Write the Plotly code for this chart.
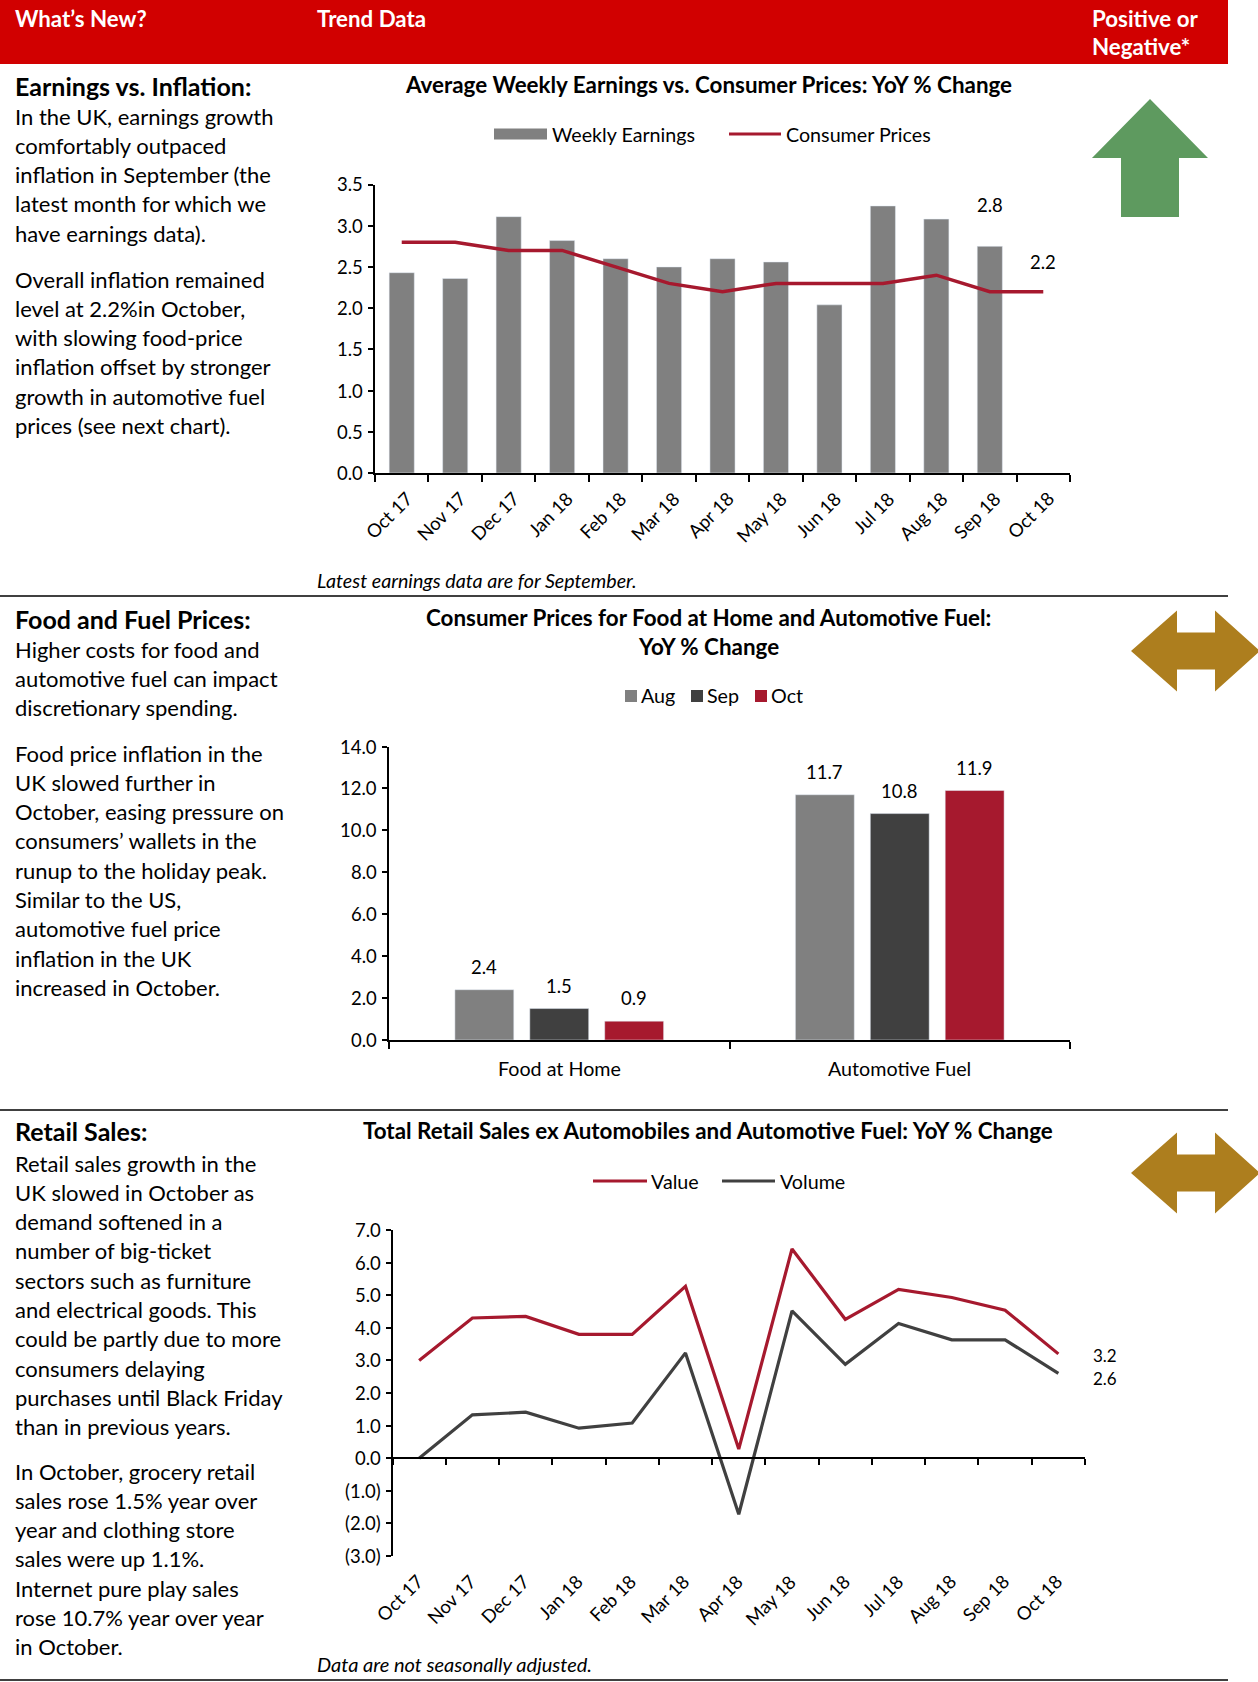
import plotly.graph_objects as go

W, H = 1258, 1682
FONT = "Lato"

# ---------------- data ----------------
months = ["Oct 17", "Nov 17", "Dec 17", "Jan 18", "Feb 18", "Mar 18", "Apr 18",
          "May 18", "Jun 18", "Jul 18", "Aug 18", "Sep 18", "Oct 18"]
weekly_earnings = [2.43, 2.36, 3.11, 2.82, 2.60, 2.50, 2.60, 2.56, 2.04, 3.24, 3.08, 2.75]
consumer_prices = [2.8, 2.8, 2.7, 2.7, 2.5, 2.3, 2.2, 2.3, 2.3, 2.3, 2.4, 2.2, 2.2]

price_categories = ["Food at Home", "Automotive Fuel"]
price_aug = [2.4, 11.7]
price_sep = [1.5, 10.8]
price_oct = [0.9, 11.9]

retail_value = [3.0, 4.3, 4.35, 3.8, 3.8, 5.27, 0.28, 6.42, 4.26, 5.18, 4.93, 4.54, 3.2]
retail_volume = [0.0, 1.33, 1.41, 0.92, 1.08, 3.23, -1.72, 4.52, 2.88, 4.13, 3.63, 3.63, 2.6]

y1_tickvals = [0.0, 0.5, 1.0, 1.5, 2.0, 2.5, 3.0, 3.5]
y1_ticktext = ["0.0", "0.5", "1.0", "1.5", "2.0", "2.5", "3.0", "3.5"]
y2_tickvals = [0, 2, 4, 6, 8, 10, 12, 14]
y2_ticktext = ["0.0", "2.0", "4.0", "6.0", "8.0", "10.0", "12.0", "14.0"]
y3_tickvals = [-3, -2, -1, 0, 1, 2, 3, 4, 5, 6, 7]
y3_ticktext = ["(3.0)", "(2.0)", "(1.0)", "0.0", "1.0", "2.0", "3.0", "4.0", "5.0", "6.0", "7.0"]

# ---------------- styles ----------------
RED = "#A6192E"
GRAY = "#808080"
DARK = "#404040"
HEADER_RED = "#D10000"
GREEN = "#5E9A5F"
GOLD = "#AD7E1E"
TICK = 18.5


def PX(x):
    return x / W


def PY(y):
    return 1 - y / H


def dom_x(x0, x1):
    return [PX(x0), PX(x1)]


def dom_y(ytop, ybot):
    return [PY(ybot), PY(ytop)]


def pth(points):
    return "M " + " L ".join(f"{PX(x):.5f},{PY(y):.5f}" for x, y in points) + " Z"


annotations = []
shapes = []


def txt(x, y, text, size, bold=False, italic=False, color="#000000", xanchor="left"):
    t = text
    if bold:
        t = f"<b>{t}</b>"
    if italic:
        t = f"<i>{t}</i>"
    annotations.append(dict(x=PX(x), y=PY(y), xref="paper", yref="paper", text=t,
                            showarrow=False, xanchor=xanchor, yanchor="middle",
                            font=dict(family=FONT, size=size, color=color)))


BODY = 22


def paragraph(lines, y0, size=BODY, pitch=29.3):
    for i, line in enumerate(lines):
        txt(13, y0 + i * pitch, line, size)


# ---------------- header ----------------
shapes.append(dict(type="rect", xref="paper", yref="paper", x0=PX(0), x1=PX(1228),
                   y0=PY(64), y1=PY(0), fillcolor=HEADER_RED, line=dict(width=0), layer="below"))
HDR = 22.3
txt(13, 18, "What’s New?", HDR, bold=True, color="white")
txt(315, 18, "Trend Data", HDR, bold=True, color="white")
txt(1090, 18, "Positive or", HDR, bold=True, color="white")
txt(1090, 47, "Negative*", HDR, bold=True, color="white")

for ys in [596, 1110, 1680]:
    shapes.append(dict(type="line", xref="paper", yref="paper", x0=PX(0), x1=PX(1228),
                       y0=PY(ys), y1=PY(ys), line=dict(color="black", width=1.6)))

# ---------------- left column text ----------------
HEAD = 25
txt(13, 86, "Earnings vs. Inflation:", HEAD, bold=True)
paragraph(["In the UK, earnings growth", "comfortably outpaced", "inflation in September (the",
           "latest month for which we", "have earnings data)."], 116)
paragraph(["Overall inflation remained", "level at 2.2%in October,", "with slowing food-price",
           "inflation offset by stronger", "growth in automotive fuel",
           "prices (see next chart)."], 279)

txt(13, 619, "Food and Fuel Prices:", HEAD, bold=True)
paragraph(["Higher costs for food and", "automotive fuel can impact",
           "discretionary spending."], 649)
paragraph(["Food price inflation in the", "UK slowed further in", "October, easing pressure on",
           "consumers’ wallets in the", "runup to the holiday peak.", "Similar to the US,",
           "automotive fuel price", "inflation in the UK", "increased in October."], 753)

txt(13, 1131, "Retail Sales:", HEAD, bold=True)
paragraph(["Retail sales growth in the", "UK slowed in October as", "demand softened in a",
           "number of big-ticket", "sectors such as furniture", "and electrical goods. This",
           "could be partly due to more", "consumers delaying", "purchases until Black Friday",
           "than in previous years."], 1163)
paragraph(["In October, grocery retail", "sales rose 1.5% year over", "year and clothing store",
           "sales were up 1.1%.", "Internet pure play sales", "rose 10.7% year over year",
           "in October."], 1471)

# ---------------- chart titles / footnotes ----------------
TT = 22.4
txt(708, 84, "Average Weekly Earnings vs. Consumer Prices: YoY % Change", TT, bold=True, xanchor="center")
txt(708, 617, "Consumer Prices for Food at Home and Automotive Fuel:", TT, bold=True, xanchor="center")
txt(708, 646, "YoY % Change", TT, bold=True, xanchor="center")
txt(708, 1130, "Total Retail Sales ex Automobiles and Automotive Fuel: YoY % Change", TT, bold=True, xanchor="center")
txt(315, 580, "Latest earnings data are for September.", 19.7, italic=True)
txt(315, 1664, "Data are not seasonally adjusted.", 20, italic=True)

# ---------------- legends (manual) ----------------
LEG = 19.7
shapes.append(dict(type="rect", xref="paper", yref="paper", x0=PX(494), x1=PX(547),
                   y0=PY(139.5), y1=PY(128.5), fillcolor=GRAY, line=dict(width=0)))
txt(550, 134, "Weekly Earnings", LEG)
shapes.append(dict(type="line", xref="paper", yref="paper", x0=PX(729), x1=PX(781),
                   y0=PY(134), y1=PY(134), line=dict(color=RED, width=3)))
txt(784, 134, "Consumer Prices", LEG)

for (x0, col, name) in [(625, GRAY, "Aug"), (691, DARK, "Sep"), (755, RED, "Oct")]:
    shapes.append(dict(type="rect", xref="paper", yref="paper", x0=PX(x0), x1=PX(x0 + 12),
                       y0=PY(702), y1=PY(690), fillcolor=col, line=dict(width=0)))
    txt(x0 + 14, 696, name, LEG)

shapes.append(dict(type="line", xref="paper", yref="paper", x0=PX(593), x1=PX(647),
                   y0=PY(1181), y1=PY(1181), line=dict(color=RED, width=3)))
txt(649, 1181, "Value", LEG)
shapes.append(dict(type="line", xref="paper", yref="paper", x0=PX(722), x1=PX(775),
                   y0=PY(1181), y1=PY(1181), line=dict(color=DARK, width=3)))
txt(778, 1181, "Volume", LEG)

# ---------------- arrows ----------------
shapes.append(dict(type="path", xref="paper", yref="paper", fillcolor=GREEN, line=dict(width=0),
                   path=pth([(1150, 99), (1208, 158), (1179, 158), (1179, 217), (1121, 217),
                             (1121, 158), (1092, 158)])))


def double_arrow(c):
    return pth([(1131, c), (1177, c - 40.5), (1177, c - 18.5), (1215, c - 18.5), (1215, c - 40.5),
                (1260, c), (1215, c + 40.5), (1215, c + 18.5), (1177, c + 18.5), (1177, c + 40.5)])


for c in [651, 1173]:
    shapes.append(dict(type="path", xref="paper", yref="paper", fillcolor=GOLD,
                       line=dict(width=0), path=double_arrow(c)))

# ---------------- traces ----------------
fig = go.Figure()

fig.add_trace(go.Bar(x=months[:len(weekly_earnings)], y=weekly_earnings, marker_color=GRAY,
                     width=0.47, xaxis="x", yaxis="y", name="Weekly Earnings"))
fig.add_trace(go.Scatter(x=months, y=consumer_prices, mode="lines", line=dict(color=RED, width=3.5),
                         xaxis="x", yaxis="y", name="Consumer Prices"))

bw = 0.173
slot = 0.22
for k, (vals, col, name) in enumerate([(price_aug, GRAY, "Aug"), (price_sep, DARK, "Sep"),
                                       (price_oct, RED, "Oct")]):
    center = (k - 1) * slot
    fig.add_trace(go.Bar(x=price_categories, y=vals, marker_color=col, width=bw,
                         offset=center - bw / 2, xaxis="x2", yaxis="y2", name=name))
    for i, v in enumerate(vals):
        annotations.append(dict(x=i + center, y=v, xref="x2", yref="y2", text=f"{v:.1f}",
                                showarrow=False, yshift=23, yanchor="middle",
                                font=dict(family=FONT, size=18.5, color="black")))

fig.add_trace(go.Scatter(x=months, y=retail_value, mode="lines", line=dict(color=RED, width=3.2),
                         xaxis="x3", yaxis="y3", name="Value"))
fig.add_trace(go.Scatter(x=months, y=retail_volume, mode="lines", line=dict(color=DARK, width=3.2),
                         xaxis="x3", yaxis="y3", name="Volume"))

annotations.append(dict(x=len(weekly_earnings) - 1, y=weekly_earnings[-1], xref="x", yref="y",
                        text=f"{weekly_earnings[-1]:.1f}", showarrow=False, yshift=41,
                        font=dict(family=FONT, size=18.5, color="black")))
annotations.append(dict(x=len(consumer_prices) - 1, y=consumer_prices[-1], xref="x", yref="y",
                        text=f"{consumer_prices[-1]:.1f}", showarrow=False, yshift=30,
                        font=dict(family=FONT, size=18.5, color="black")))
annotations.append(dict(x=len(retail_value) - 1, y=retail_value[-1], xref="x3", yref="y3",
                        text=f"{retail_value[-1]:.1f}", showarrow=False, xshift=34, yshift=-13,
                        xanchor="left", yanchor="bottom", borderpad=0,
                        font=dict(family=FONT, size=17, color="black")))
annotations.append(dict(x=len(retail_volume) - 1, y=retail_volume[-1], xref="x3", yref="y3",
                        text=f"{retail_volume[-1]:.1f}", showarrow=False, xshift=34, yshift=6,
                        xanchor="left", yanchor="top", borderpad=0,
                        font=dict(family=FONT, size=17, color="black")))

# ---------------- tick labels (placed through the axes) ----------------
tickfont = dict(family=FONT, size=TICK, color="black")


def y_labels(yref, axis_x, vals, texts):
    for v, t in zip(vals, texts):
        annotations.append(dict(x=PX(axis_x - 10), y=v, xref="paper", yref=yref, text=t,
                                showarrow=False, xanchor="right", yanchor="middle", font=tickfont))


def x_labels_rot(xref, yref, ybase, cats, xshift, yshift):
    for i, c in enumerate(cats):
        annotations.append(dict(x=i, y=ybase, xref=xref, yref=yref, text=c, textangle=-45,
                                showarrow=False, xanchor="right", yanchor="top",
                                xshift=xshift, yshift=yshift, font=tickfont))


y_labels("y", 375, y1_tickvals, y1_ticktext)
y_labels("y2", 389, y2_tickvals, y2_ticktext)
y_labels("y3", 392.5, y3_tickvals, y3_ticktext)
x_labels_rot("x", "y", 0, months, 18, -12)
x_labels_rot("x3", "y3", -3, months, 11, -12)
for i, c in enumerate(price_categories):
    annotations.append(dict(x=i, y=0, xref="x2", yref="y2", text=c, showarrow=False,
                            xanchor="center", yanchor="middle", yshift=-28,
                            font=dict(family=FONT, size=19.7, color="black")))

# ---------------- axes ----------------
axis_common = dict(showgrid=False, zeroline=False, showline=True, linecolor="black", linewidth=2,
                   ticks="outside", tickcolor="black", tickwidth=2, showticklabels=False,
                   fixedrange=True)

y3_range = [-3, 7]
y3_dom = dom_y(1230, 1556)
zero_pos = y3_dom[0] + (0 - y3_range[0]) / (y3_range[1] - y3_range[0]) * (y3_dom[1] - y3_dom[0])

fig.update_layout(
    width=W, height=H, margin=dict(l=0, r=0, t=0, b=0),
    paper_bgcolor="white", plot_bgcolor="white",
    barmode="overlay", showlegend=False, hovermode=False,
    font=dict(family=FONT, color="black"),
    xaxis=dict(domain=dom_x(375, 1070), anchor="y", type="category", tickson="boundaries",
               range=[-0.5, len(months) - 0.5], ticklen=7, **axis_common),
    yaxis=dict(domain=dom_y(184.5, 473), anchor="x", range=[0, 3.5], tickvals=y1_tickvals,
               ticklen=5, **axis_common),
    xaxis2=dict(domain=dom_x(389, 1070), anchor="y2", type="category", tickson="boundaries",
                range=[-0.5, len(price_categories) - 0.5], ticklen=7, **axis_common),
    yaxis2=dict(domain=dom_y(746.5, 1040), anchor="x2", range=[0, 14], tickvals=y2_tickvals,
                ticklen=5, **axis_common),
    xaxis3=dict(domain=dom_x(392.5, 1085), anchor="free", position=zero_pos, type="category",
                tickson="boundaries", range=[-0.5, len(months) - 0.5], ticklen=6, **axis_common),
    yaxis3=dict(domain=y3_dom, anchor="x3", range=y3_range, tickvals=y3_tickvals,
                ticklen=5, **axis_common),
    annotations=annotations, shapes=shapes,
)

fig.write_html("out.html", config={"displayModeBar": False},
               post_script="document.body.style.margin='0';")
